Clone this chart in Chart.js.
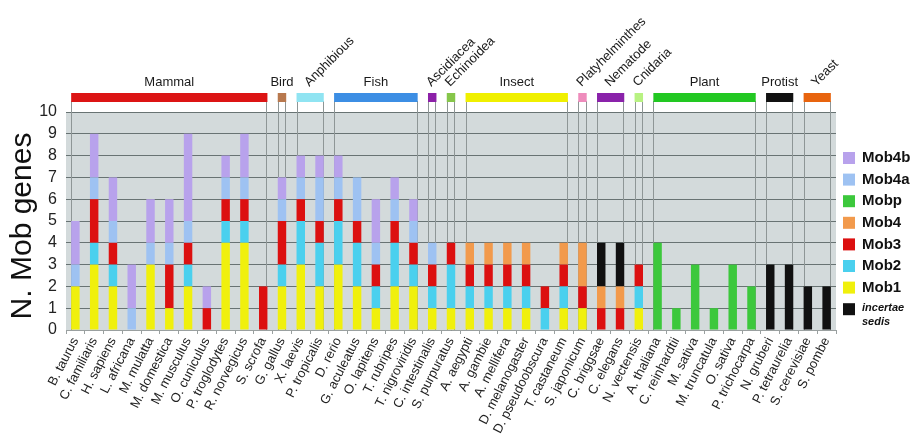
<!DOCTYPE html>
<html>
<head>
<meta charset="utf-8">
<script src="https://cdn.jsdelivr.net/npm/chart.js@4/dist/chart.umd.min.js"></script>
<style>
  html, body { margin: 0; padding: 0; background: #fff; }
</style>
</head>
<body>
<canvas id="myChart" width="914" height="443"></canvas>
<script>
// species on the x axis
const species = [
  'B. taurus', 'C. familiaris', 'H. sapiens', 'L. africana', 'M. mulatta', 'M. domestica',
  'M. musculus', 'O. cuniculus', 'P. troglodytes', 'R. norvegicus', 'S. scrofa', 'G. gallus',
  'X. laevis', 'P. tropicalis', 'D. rerio', 'G. aculeatus', 'O. lapitens', 'T. rubripes',
  'T. nigroviridis', 'C. intestinalis', 'S. purpuratus', 'A. aegypti', 'A. gambie', 'A. mellifera',
  'D. melanogaster', 'D. pseudoobscura', 'T. castaneum', 'S. japonicum', 'C. briggsae', 'C. elegans',
  'N. vectensis', 'A. thaliana', 'C. reinhardtii', 'M. sativa', 'M. truncatula', 'O. sativa',
  'P. trichocarpa', 'N. gruberi', 'P. tetraurelia', 'S. cerevisiae', 'S. pombe'
];

// gene counts per species (stacked bottom to top)
const mob1   = [2,3,2,0,3,1,2,0,4,4,0, 2, 3,2, 3,2,1,2,2, 1, 1, 1,1,1,1,0,1, 1, 0,0, 1, 0,0,0,0,0,0, 0,0, 0,0];
const mob2   = [0,1,1,0,0,0,1,0,1,1,0, 1, 2,2, 2,2,1,2,1, 1, 2, 1,1,1,1,1,1, 0, 0,0, 1, 0,0,0,0,0,0, 0,0, 0,0];
const mob3   = [0,2,1,0,0,2,1,1,1,1,2, 2, 1,1, 1,1,1,1,1, 1, 1, 1,1,1,1,1,1, 1, 1,1, 1, 0,0,0,0,0,0, 0,0, 0,0];
const mob4   = [0,0,0,0,0,0,0,0,0,0,0, 0, 0,0, 0,0,0,0,0, 0, 0, 1,1,1,1,0,1, 2, 1,1, 0, 0,0,0,0,0,0, 0,0, 0,0];
const mobp   = [0,0,0,0,0,0,0,0,0,0,0, 0, 0,0, 0,0,0,0,0, 0, 0, 0,0,0,0,0,0, 0, 0,0, 0, 4,1,3,1,3,2, 0,0, 0,0];
const mob4a  = [1,1,1,1,1,1,1,0,1,1,0, 1, 1,2, 1,2,1,1,1, 1, 0, 0,0,0,0,0,0, 0, 0,0, 0, 0,0,0,0,0,0, 0,0, 0,0];
const mob4b  = [2,2,2,2,2,2,4,1,1,2,0, 1, 1,1, 1,0,2,1,1, 0, 0, 0,0,0,0,0,0, 0, 0,0, 0, 0,0,0,0,0,0, 0,0, 0,0];
const incert = [0,0,0,0,0,0,0,0,0,0,0, 0, 0,0, 0,0,0,0,0, 0, 0, 0,0,0,0,0,0, 0, 2,2, 0, 0,0,0,0,0,0, 3,3, 2,2];

const yTicks = [0,1,2,3,4,5,6,7,8,9,10];

// taxonomic groups above the plot: first and last species index
const groupNames  = ['Mammal','Bird','Anphibious','Fish','Ascidiacea','Echinoidea','Insect','Platyhelminthes','Nematode','Cnidaria','Plant','Protist','Yeast'];
const groupStart  = [0, 11, 12, 14, 19, 20, 21, 27, 28, 30, 31, 37, 39];
const groupEnd    = [10, 11, 13, 18, 19, 20, 26, 27, 29, 30, 36, 38, 40];
const groupSlant  = [false, false, true, false, true, true, false, true, true, true, false, false, true];
const groupColors = ['#dc1414','#b8784e','#90e4f2','#3c8ee4','#8c20a8','#86c64a','#f0f000','#ee8cbc','#8a22aa','#b8f282','#22c822','#111111','#e8640e'];

// legend order, top to bottom (dataset index)
const legendOrder = [6, 5, 4, 3, 2, 1, 0, 7];

const seriesColors = {
  mob1: '#f0f00c', mob2: '#4ad0ee', mob3: '#dc1010', mob4: '#f29a4c',
  mobp: '#3cc83c', mob4a: '#9ec2f2', mob4b: '#b8a2ec', inc: '#111111'
};

const FONT = '"Liberation Sans", Arial, Helvetica, sans-serif';

const decor = {
  id: 'decor',
  beforeDraw(chart) {
    const a = chart.chartArea, ctx = chart.ctx;
    ctx.save();
    ctx.fillStyle = '#d3dadb';
    ctx.fillRect(a.left, a.top, a.right - a.left, a.bottom - a.top);
    ctx.restore();
  },
  beforeDatasetsDraw(chart) {
    const a = chart.chartArea, ctx = chart.ctx, x = chart.scales.x;
    const half = chart.getDatasetMeta(0).data[0].width / 2;
    ctx.save();
    ctx.strokeStyle = '#8e9696';
    ctx.lineWidth = 1;
    groupNames.forEach((g, i) => {
      const x0 = Math.round(x.getPixelForValue(groupStart[i]) - half) + 0.5;
      const x1 = Math.round(x.getPixelForValue(groupEnd[i]) + half) - 0.5;
      ctx.beginPath();
      ctx.moveTo(x0, 101); ctx.lineTo(x0, a.bottom);
      ctx.moveTo(x1, 101); ctx.lineTo(x1, a.bottom);
      ctx.stroke();
    });
    ctx.restore();
  },
  afterDraw(chart) {
    const ctx = chart.ctx, x = chart.scales.x;
    const half = chart.getDatasetMeta(0).data[0].width / 2;
    ctx.save();
    // y axis title
    ctx.save();
    ctx.translate(23, 226);
    ctx.rotate(-Math.PI / 2);
    ctx.fillStyle = '#111';
    ctx.font = '30px ' + FONT;
    ctx.textAlign = 'center';
    ctx.textBaseline = 'middle';
    ctx.fillText('N. Mob genes', 0, 0);
    ctx.restore();
    // group header bars and names
    groupNames.forEach((g, i) => {
      const x0 = x.getPixelForValue(groupStart[i]) - half;
      const x1 = x.getPixelForValue(groupEnd[i]) + half;
      ctx.fillStyle = groupColors[i];
      ctx.fillRect(x0, 93, x1 - x0, 9);
      ctx.fillStyle = '#1a1a1a';
      ctx.font = '13px ' + FONT;
      const cx = (x0 + x1) / 2;
      if (groupSlant[i]) {
        ctx.save();
        ctx.translate(cx - 1, 87);
        ctx.rotate(-Math.PI / 4);
        ctx.textAlign = 'left';
        ctx.textBaseline = 'alphabetic';
        ctx.fillText(g, 0, 0);
        ctx.restore();
      } else {
        ctx.textAlign = 'center';
        ctx.textBaseline = 'alphabetic';
        ctx.fillText(g, cx, 86);
      }
    });
    // legend
    legendOrder.forEach((di, k) => {
      const ds = chart.data.datasets[di];
      const y = 158 + k * 21.6;
      ctx.fillStyle = ds.backgroundColor;
      ctx.fillRect(843, y - 6, 12, 12);
      ctx.fillStyle = '#111';
      ctx.textAlign = 'left';
      ctx.textBaseline = 'middle';
      if (ds.label === 'incertae sedis') {
        ctx.font = 'italic bold 11px ' + FONT;
        ctx.fillText('incertae', 862, y - 1);
        ctx.fillText('sedis', 862, y + 13);
      } else {
        ctx.font = 'bold 15px ' + FONT;
        ctx.fillText(ds.label, 862, y);
      }
    });
    ctx.restore();
  }
};

let ctx = document.getElementById('myChart').getContext('2d');
let chart = new Chart(ctx, {
  type: 'bar',
  data: {
    labels: species,
    datasets: [
      { label: 'Mob1', data: mob1, backgroundColor: seriesColors.mob1 },
      { label: 'Mob2', data: mob2, backgroundColor: seriesColors.mob2 },
      { label: 'Mob3', data: mob3, backgroundColor: seriesColors.mob3 },
      { label: 'Mob4', data: mob4, backgroundColor: seriesColors.mob4 },
      { label: 'Mobp', data: mobp, backgroundColor: seriesColors.mobp },
      { label: 'Mob4a', data: mob4a, backgroundColor: seriesColors.mob4a },
      { label: 'Mob4b', data: mob4b, backgroundColor: seriesColors.mob4b },
      { label: 'incertae sedis', data: incert, backgroundColor: seriesColors.inc }
    ]
  },
  options: {
    responsive: false,
    animation: false,
    layout: { padding: { top: 112, right: 78, bottom: 0, left: 0 } },
    datasets: { bar: { barPercentage: 0.45, categoryPercentage: 1, borderWidth: 0 } },
    plugins: { legend: { display: false }, tooltip: { enabled: false } },
    scales: {
      x: {
        stacked: true,
        grid: { display: true, drawOnChartArea: false, offset: true, tickLength: 4, color: '#9aa0a0' },
        border: { display: true, color: '#9aa0a0' },
        ticks: {
          autoSkip: false, maxRotation: 63, minRotation: 63, padding: 1,
          color: '#222', font: { size: 13, family: FONT }
        },
        afterFit(scale) { scale.height = 113; }
      },
      y: {
        stacked: true,
        min: 0, max: 10,
        afterBuildTicks(scale) { scale.ticks = yTicks.map(v => ({ value: v })); },
        grid: { color: '#687373', lineWidth: 1, drawTicks: false },
        border: { display: false },
        ticks: { autoSkip: false, stepSize: 1, color: '#222', padding: 9, font: { size: 16, family: FONT } },
        afterFit(scale) { scale.width = 66; }
      }
    }
  },
  plugins: [decor]
});
</script>
</body>
</html>
